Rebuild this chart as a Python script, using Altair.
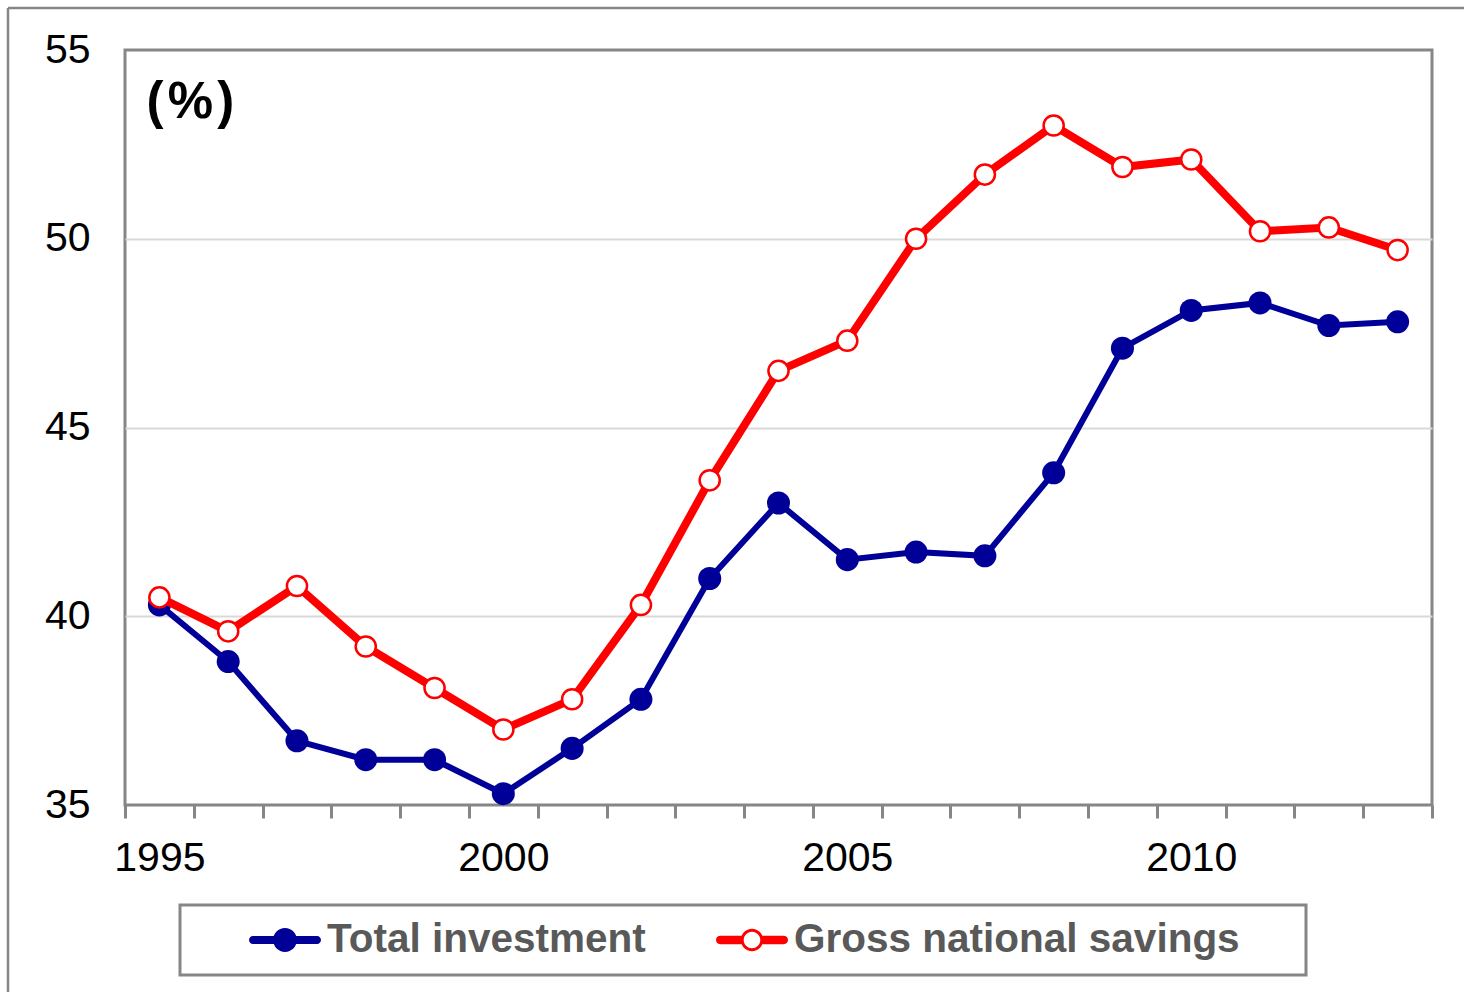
import altair as alt
import pandas as pd

# Investment and savings as a share of GDP, 1995-2013
years = list(range(1995, 2014))
total_investment = [40.3, 38.8, 36.7, 36.2, 36.2, 35.3, 36.5, 37.8, 41.0, 43.0,
                    41.5, 41.7, 41.6, 43.8, 47.1, 48.1, 48.3, 47.7, 47.8]
gross_savings = [40.5, 39.6, 40.8, 39.2, 38.1, 37.0, 37.8, 40.3, 43.6, 46.5,
                 47.3, 50.0, 51.7, 53.0, 51.9, 52.1, 50.2, 50.3, 49.7]
series_names = ["Total investment", "Gross national savings"]
series_colors = ["#000099", "#FF0000"]
y_ticks = [35, 40, 45, 50, 55]

FONT = "Liberation Sans"
GRAY = "#868686"

rows = []
for name, vals in zip(series_names, [total_investment, gross_savings]):
    for yr, v in zip(years, vals):
        rows.append({"year": yr, "value": v, "series": name})
df = pd.DataFrame(rows)

# Legend symbols: a line with a marker in the middle (units: half the symbol width)
def circle(r, cx=0.0, cw=True):
    s = 1 if cw else 0
    return (f"M{cx - r},0 A{r},{r} 0 1,{s} {cx + r},0 "
            f"A{r},{r} 0 1,{s} {cx - r},0 Z ")

def bar(x0, x1, h):
    return f"M{x0},{-h} L{x1},{-h} L{x1},{h} L{x0},{h} Z "

blue_symbol = (bar(-0.89, 0.89, 0.11) + circle(0.11, -0.89) + circle(0.11, 0.89)
               + circle(0.33))
red_symbol = (bar(-0.89, -0.27, 0.115) + bar(0.27, 0.89, 0.115)
              + circle(0.115, -0.885) + circle(0.115, 0.885)
              + circle(0.31) + circle(0.23, cw=False))

x_enc = alt.X(
    "year:O",
    bandPosition=0.5,
    scale=alt.Scale(type="band", paddingInner=0, paddingOuter=0),
    axis=alt.Axis(
        title=None,
        labelExpr="datum.value % 5 === 0 ? datum.label : ''",
        labelAngle=0,
        labelFont=FONT,
        labelFontSize=41,
        labelColor="black",
        labelPadding=20,
        labelOverlap=False,
        tickBand="extent",
        ticks=True,
        tickSize=13,
        tickWidth=3,
        tickColor=GRAY,
        domain=False,
        grid=False,
    ),
)

y_enc = alt.Y(
    "value:Q",
    scale=alt.Scale(domain=[35, 55], nice=False, zero=False),
    axis=alt.Axis(
        values=y_ticks,
        ticks=False,
        domain=False,
        grid=True,
        gridColor={"condition": {"test": "datum.value === 35 || datum.value === 55",
                                 "value": "transparent"},
                   "value": "#D9D9D9"},
        gridWidth=2,
        labelFont=FONT,
        labelFontSize=41,
        labelColor="black",
        labelPadding=35,
        title="(\u200a%\u200a)",
        titleAngle=0,
        titleX=21,
        titleY=67,
        titleAlign="left",
        titleBaseline="alphabetic",
        titleFont=FONT,
        titleFontSize=51,
        titleFontWeight="bold",
        titleColor="black",
    ),
)

legend = alt.Legend(
    title=None,
    orient="none",
    legendX=124,
    legendY=867,
    direction="horizontal",
    columns=2,
    padding=0,
    columnPadding=70,
    symbolSize=5184,
    symbolStrokeWidth=0,
    symbolOpacity=1,
    symbolType={"expr": f"datum.value === 'Total investment' ? '{blue_symbol}' : '{red_symbol}'"},
    clipHeight=46,
    labelFont=FONT,
    labelFontSize=40.5,
    labelFontWeight="bold",
    labelColor="#595959",
    labelOffset=6,
    labelLimit=800,
)

base = alt.Chart(df).encode(x=x_enc, y=y_enc)
inv = base.transform_filter(alt.datum.series == series_names[0])
sav = base.transform_filter(alt.datum.series == series_names[1])

# symbol size is the square of the marker diameter
inv_line = inv.mark_line(strokeWidth=6, color=series_colors[0])
inv_pts = inv.mark_circle(size=530, opacity=1).encode(
    color=alt.Color("series:N",
                    scale=alt.Scale(domain=series_names, range=series_colors),
                    legend=legend)
)
sav_line = sav.mark_line(strokeWidth=8, color=series_colors[1])
sav_pts = sav.mark_circle(size=405, fill="white", stroke=series_colors[1],
                          strokeWidth=2.5, opacity=1)

one = alt.Data(values=[{}])
legend_box = alt.Chart(one).mark_rect(fillOpacity=0, stroke=GRAY, strokeWidth=3).encode(
    x=alt.value(55), x2=alt.value(1181), y=alt.value(855), y2=alt.value(925)
)
frame_top = alt.Chart(one).mark_rule(stroke=GRAY, strokeWidth=2.5).encode(
    x=alt.value(-117), x2=alt.value(1350), y=alt.value(-42)
)
frame_left = alt.Chart(one).mark_rule(stroke=GRAY, strokeWidth=2.5).encode(
    x=alt.value(-117), y=alt.value(-42), y2=alt.value(960)
)

chart = alt.layer(
    frame_top, frame_left, legend_box, inv_line, inv_pts, sav_line, sav_pts
).properties(
    width=1307,
    height=755,
    padding={"left": 125, "top": 50, "right": 32, "bottom": 187},
    autosize=alt.AutoSizeParams(type="none"),
    background="white",
).configure_view(
    stroke=GRAY, strokeWidth=3
)

chart.save("out.html", embed_options={"renderer": "svg", "actions": False})
